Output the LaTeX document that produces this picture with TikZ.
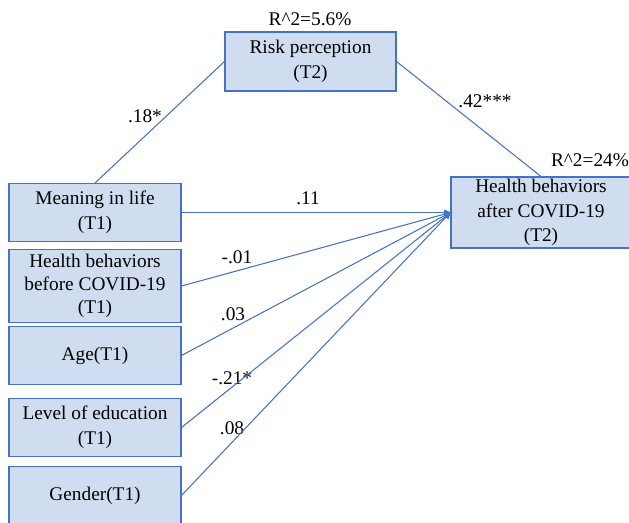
\documentclass[tikz,border=0pt]{standalone}
\usepackage{fontspec}
\setmainfont{Liberation Serif}
\usepackage{tikz}
\usetikzlibrary{arrows.meta}
\definecolor{lineblue}{HTML}{4472C4}
\definecolor{boxfill}{HTML}{D0DDF1}
\tikzstyle{box}=[draw=lineblue, fill=boxfill, line width=0.6pt, minimum width=3.44cm, minimum height=1.16cm, align=center, inner sep=1pt, font=\fontsize{11}{14}\selectfont]
\tikzstyle{link}=[color=lineblue, line width=0.6pt]
\tikzstyle{coef}=[font=\fontsize{11}{13}\selectfont]

\begin{document}
\begin{tikzpicture}[x=0.02cm, y=-0.02cm]
            \useasboundingbox (0,0) rectangle (629,522);
            \node [box] (mean) at (95,212.5) {Meaning in life\\(T1)};
            \node [box, below of=mean, node distance=1.47cm, minimum height=1.46cm, font=\fontsize{11}{13}\selectfont] (before) {Health behaviors\\before COVID-19\\(T1)};
            \node [box, below of=before, node distance=1.39cm] (age) {Age(T1)};
            \node [box, below of=age, node distance=1.44cm] (edu) {Level of education\\(T1)};
            \node [box, below of=edu, node distance=1.36cm] (gender) {Gender(T1)};
            \node [box, minimum width=3.42cm, minimum height=1.18cm] (risk) at (310.5,61.5) {Risk perception\\(T2)};
            \node [box, minimum width=3.6cm, minimum height=1.42cm] (after) at (541,212.5) {Health behaviors\\after COVID-19\\(T2)};
            \node [coef] (r2risk) at (310,19) {R\textasciicircum2=5.6\%};
            \node [coef] (r2after) at (590,160) {R\textasciicircum2=24\%};
            \node [coef] (c1) at (145,116) {.18*};
            \node [coef] (c2) at (485,101) {.42***};
            \node [coef] (c3) at (308,198) {.11};
            \node [coef] (c4) at (237,257) {-.01};
            \node [coef] (c5) at (233,314) {.03};
            \node [coef] (c6) at (232,378) {-.21*};
            \node [coef] (c7) at (232,428) {.08};
            \path[link] (mean.north) edge (risk.west);
            \path[link] (risk.east) edge (after.north);
            \path[link, -{Triangle[length=3.5pt, width=3.5pt]}] (mean.east) edge (after.west);
            \path[link, -{Triangle[length=3.5pt, width=3.5pt]}] (before.east) edge (after.west);
            \path[link, -{Triangle[length=3.5pt, width=3.5pt]}] (age.east) edge (after.west);
            \path[link, -{Triangle[length=3.5pt, width=3.5pt]}] (edu.east) edge (after.west);
            \path[link, -{Triangle[length=3.5pt, width=3.5pt]}] (gender.east) edge (after.west);
        \end{tikzpicture}
\end{document}
